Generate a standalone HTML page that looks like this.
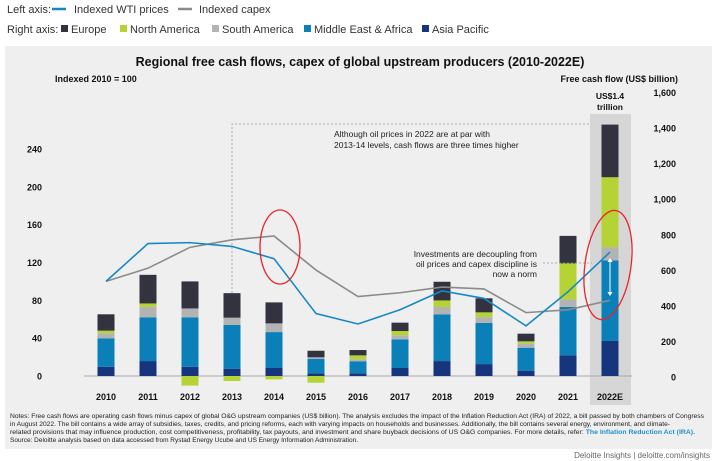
<!DOCTYPE html>
<html><head><meta charset="utf-8"><style>
body{margin:0;background:#fff;font-family:"Liberation Sans",Arial,sans-serif;}
svg{display:block}
</style></head><body>
<svg id="chart" width="720" height="461" viewBox="0 0 720 461" xmlns="http://www.w3.org/2000/svg" font-family="Liberation Sans, Arial, sans-serif">
<g font-size="11" fill="#333">
<text x="7" y="13">Left axis:</text>
<line x1="52" y1="9" x2="66" y2="9" stroke="#1689c5" stroke-width="2.5"/>
<text x="74" y="13">Indexed WTI prices</text>
<line x1="178" y1="9" x2="192" y2="9" stroke="#8b8b8b" stroke-width="2.5"/>
<text x="199" y="13">Indexed capex</text>
<text x="7" y="33">Right axis:</text>
<rect x="61" y="25" width="7" height="7" fill="#32333f"/><text x="71" y="33">Europe</text>
<rect x="120" y="25" width="7" height="7" fill="#b5d334"/><text x="130" y="33">North America</text>
<rect x="212" y="25" width="7" height="7" fill="#b3b3b3"/><text x="222" y="33">South America</text>
<rect x="304" y="25" width="7" height="7" fill="#0a7fb8"/><text x="314" y="33">Middle East &amp; Africa</text>
<rect x="422" y="25" width="7" height="7" fill="#16357d"/><text x="432" y="33">Asia Pacific</text>
</g>
<rect x="5" y="46" width="707" height="403" fill="#efefef"/>
<text x="360" y="66" text-anchor="middle" font-size="12.5" font-weight="bold" fill="#111">Regional free cash flows, capex of global upstream producers (2010-2022E)</text>
<text x="55" y="82" font-size="9" font-weight="bold" fill="#111">Indexed 2010 = 100</text>
<text x="678" y="82" text-anchor="end" font-size="9" font-weight="bold" fill="#111">Free cash flow (US$ billion)</text>
<rect x="590" y="114" width="41" height="291" fill="#d6d6d6"/>
<text x="610" y="99" text-anchor="middle" font-size="8.5" font-weight="bold" fill="#111">US$1.4</text>
<text x="610" y="110" text-anchor="middle" font-size="8.5" font-weight="bold" fill="#111">trillion</text>
<g id="plot"></g>
<g>
<polyline points="232,293 232,124 590,124" fill="none" stroke="#999" stroke-dasharray="2,2" stroke-width="0.8"/>
<text x="334" y="137" font-size="8.5" fill="#222">Although oil prices in 2022 are at par with</text>
<text x="334" y="148" font-size="8.5" fill="#222">2013-14 levels, cash flows are three times higher</text>
<text x="537" y="257" text-anchor="end" font-size="8.5" fill="#222">Investments are decoupling from</text>
<text x="537" y="267" text-anchor="end" font-size="8.5" fill="#222">oil prices and capex discipline is</text>
<text x="537" y="277" text-anchor="end" font-size="8.5" fill="#222">now a norm</text>
<line x1="543" y1="263" x2="592" y2="263" stroke="#999" stroke-dasharray="2,2" stroke-width="0.8"/>
<line x1="610" y1="259" x2="610" y2="295" stroke="#fff" stroke-width="1"/>
<path d="M607.5,262 L610,258 L612.5,262 Z M607.5,292 L610,296 L612.5,292 Z" fill="#fff"/>
<ellipse cx="280" cy="247" rx="20" ry="37" fill="none" stroke="#e8242a" stroke-width="1.3"/>
<ellipse cx="608" cy="265" rx="23" ry="55" fill="none" stroke="#e8242a" stroke-width="1.3" transform="rotate(8 608 265)"/>
</g>
<g font-size="6.4" fill="#222">
<text x="10" y="418" textLength="694" lengthAdjust="spacingAndGlyphs">Notes: Free cash flows are operating cash flows minus capex of global O&amp;G upstream companies (US$ billion). The analysis excludes the impact of the Inflation Reduction Act (IRA) of 2022, a bill passed by both chambers of Congress</text>
<text x="10" y="426" textLength="660" lengthAdjust="spacingAndGlyphs">in August 2022. The bill contains a wide array of subsidies, taxes, credits, and pricing reforms, each with varying impacts on households and businesses. Additionally, the bill contains several energy, environment, and climate-</text>
<text x="10" y="434" textLength="685" lengthAdjust="spacingAndGlyphs">related provisions that may influence production, cost competitiveness, profitability, tax payouts, and investment and share buyback decisions of US O&amp;G companies. For more details, refer: <tspan fill="#1f8fcf" font-weight="bold">The Inflation Reduction Act (IRA).</tspan></text>
<text x="10" y="442" textLength="348" lengthAdjust="spacingAndGlyphs">Source: Deloitte analysis based on data accessed from Rystad Energy Ucube and US Energy Information Administration.</text>
</g>
<text x="710" y="458" text-anchor="end" font-size="8" fill="#666">Deloitte Insights | deloitte.com/insights</text>
</svg>
<script>
const years = ["2010","2011","2012","2013","2014","2015","2016","2017","2018","2019","2020","2021","2022E"];
const asiaPacific = [52,84,52,41,45,15,15,45,84,67,30,116,197];
const middleEast = [160,246,278,246,202,82,68,161,263,231,129,272,453];
const southAmerica = [28,59,50,41,49,8,11,23,41,33,23,43,75];
const northAmerica = [15,19,-54,-28,-19,-38,22,24,37,27,13,202,393];
const europe = [92,161,152,138,118,37,30,47,105,79,43,155,296];
const wti = [100,140,141,137,124,66,55,70,90,82,53,89,131];
const capex = [100,114,136,144,148,112,84,88,94,92,67,70,80];
const leftTicks = [0,40,80,120,160,200,240];
const rightTicks = [0,200,400,600,800,1000,1200,1400,1600];

const NS="http://www.w3.org/2000/svg";
const g=document.getElementById('plot');
const zeroY=376;
const xPos=i=>106+i*42;
const yL=v=>zeroY-v*0.946;
const yR=v=>zeroY-v*0.1778;
function mk(tag,attrs){const e=document.createElementNS(NS,tag);for(const k in attrs)e.setAttribute(k,attrs[k]);g.appendChild(e);return e;}

leftTicks.forEach(t=>{const e=mk('text',{x:42,y:yL(t)+3.5,'text-anchor':'end','font-size':9,'font-weight':'bold',fill:'#111'});e.textContent=t;

});
rightTicks.forEach(t=>{const e=mk('text',{x:676,y:yR(t)+4.5,'text-anchor':'end','font-size':9,'font-weight':'bold',fill:'#111'});e.textContent=t.toLocaleString('en-US');

});
const base=mk('line',{x1:84,x2:632,y1:zeroY,y2:zeroY,stroke:'#aaa','stroke-width':1});



const series=[[asiaPacific,'#16357d','asia-pacific'],[middleEast,'#0a7fb8','middle-east-africa'],[southAmerica,'#b3b3b3','south-america'],[northAmerica,'#b5d334','north-america'],[europe,'#32333f','europe']];
years.forEach((yr,i)=>{
  let pos=0,neg=0;
  series.forEach(([arr,col,nm])=>{
    const v=arr[i];let y0,y1;
    if(v>=0){y0=pos;y1=pos+v;pos=y1;}else{y0=neg+v;y1=neg;neg=y0;}
    const r=mk('rect',{x:xPos(i)-8.5,y:yR(y1),width:17,height:Math.max(0,yR(y0)-yR(y1)),fill:col});
    
    
  });
  const t=mk('text',{x:xPos(i),y:400,'text-anchor':'middle','font-size':9,'font-weight':'bold',fill:'#111'});t.textContent=yr;
  
  
});
const lc=mk('polyline',{points:capex.map((v,i)=>xPos(i)+','+yL(v)).join(' '),fill:'none',stroke:'#8b8b8b','stroke-width':1.6});


const lw=mk('polyline',{points:wti.map((v,i)=>xPos(i)+','+yL(v)).join(' '),fill:'none',stroke:'#1689c5','stroke-width':1.6});


</script>
</body></html>
